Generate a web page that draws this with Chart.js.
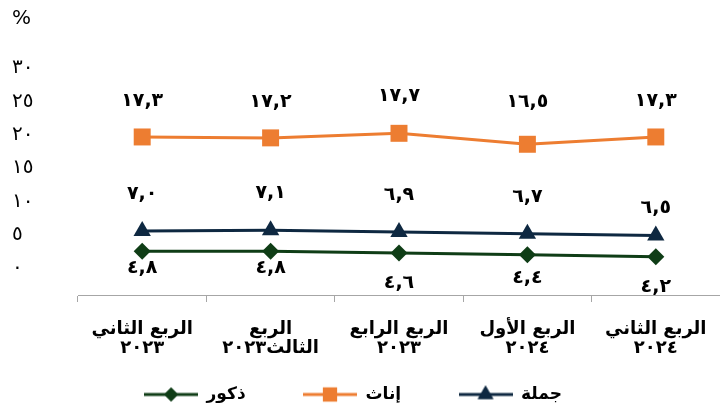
<!DOCTYPE html>
<html lang="ar">
<head>
<meta charset="utf-8">
<script src="https://cdn.jsdelivr.net/npm/chart.js@4.4.1/dist/chart.umd.min.js"></script>
<style>
    html, body { margin: 0; padding: 0; background: #fff; }
    #wrap { width: 720px; height: 409px; }
</style>
</head>
<body>
<div id="wrap"><canvas id="quarters-chart"></canvas></div>
<script>
const QUARTERS = [
    ['الربع الثاني', '٢٠٢٣'],
    ['الربع', 'الثالث٢٠٢٣'],
    ['الربع الرابع', '٢٠٢٣'],
    ['الربع الأول', '٢٠٢٤'],
    ['الربع الثاني', '٢٠٢٤'],
];
const MALES = [4.8, 4.8, 4.6, 4.4, 4.2];
const FEMALES = [17.3, 17.2, 17.7, 16.5, 17.3];
const TOTAL = [7.0, 7.1, 6.9, 6.7, 6.5];
const Y_TICKS = [0, 5, 10, 15, 20, 25, 30];

const FONT = 'DejaVu Sans, sans-serif';
const COLORS = { males: '#0f3d16', females: '#ed7d31', total: '#0e2841' };

function toArabicDigits(text) {
    return String(text).replace(/[0-9]/g, d => '٠١٢٣٤٥٦٧٨٩'[d]);
}

// small canvas with the line running through the marker, used as legend symbol
function legendSymbol(color, pointStyle, radius) {
    const cnv = document.createElement('canvas');
    cnv.width = 54;
    cnv.height = 20;
    const ctx = cnv.getContext('2d');
    ctx.strokeStyle = color;
    ctx.lineWidth = 3;
    ctx.beginPath();
    ctx.moveTo(0, 10);
    ctx.lineTo(54, 10);
    ctx.stroke();
    ctx.fillStyle = color;
    Chart.helpers.drawPoint(ctx, { pointStyle, radius, borderWidth: 0 }, 27, 10);
    ctx.fill();
    return cnv;
}

const valueLabels = {
    id: 'valueLabels',
    afterDatasetsDraw(chart, args, opts) {
        const ctx = chart.ctx;
        ctx.save();
        ctx.font = opts.font;
        ctx.fillStyle = opts.color;
        ctx.letterSpacing = opts.spacing;
        ctx.textAlign = 'center';
        ctx.textBaseline = 'middle';
        chart.data.datasets.forEach((ds, i) => {
            const meta = chart.getDatasetMeta(i);
            const shifts = opts.offsets[i];
            meta.data.forEach((pt, j) => {
                const txt = toArabicDigits(ds.data[j].toFixed(1)).replace('.', ',');
                ctx.fillText(txt, pt.x, pt.y + shifts[j]);
            });
        });
        ctx.restore();
    },
};

// legend sits a little left of the plot's centre in the original
const legendShift = {
    id: 'legendShift',
    afterLayout(chart) {
        if (chart.legend) {
            chart.legend.left -= 20;
            chart.legend.right -= 20;
        }
    },
};

function renderQuartersChart() {
    const chartElm = document.getElementById('quarters-chart');
    if (!chartElm) return;

    const ctx = chartElm.getContext('2d');
    const quartersChart = new Chart(ctx, {
        type: 'line',
        data: {
            labels: QUARTERS,
            datasets: [
                {
                    label: 'ذكور',
                    data: MALES,
                    borderColor: COLORS.males,
                    backgroundColor: COLORS.males,
                    pointStyle: 'rectRot',
                    pointRadius: 8.5,
                    legendSymbol: legendSymbol(COLORS.males, 'rectRot', 7),
                },
                {
                    label: 'إناث',
                    data: FEMALES,
                    borderColor: COLORS.females,
                    backgroundColor: COLORS.females,
                    pointStyle: 'rect',
                    pointRadius: 12,
                    legendSymbol: legendSymbol(COLORS.females, 'rect', 10),
                },
                {
                    label: 'جملة',
                    data: TOTAL,
                    borderColor: COLORS.total,
                    backgroundColor: COLORS.total,
                    pointStyle: 'triangle',
                    pointRadius: 10,
                    legendSymbol: legendSymbol(COLORS.total, 'triangle', 9),
                },
            ],
        },
        options: {
            responsive: true,
            maintainAspectRatio: false,
            animation: false,
            layout: { autoPadding: false, padding: { left: 12, right: -14, top: 0, bottom: -4 } },
            elements: {
                line: { borderWidth: 3, tension: 0 },
                point: { borderWidth: 0, hoverRadius: 9 },
            },
            plugins: {
                title: {
                    display: true,
                    text: '%',
                    align: 'start',
                    color: '#000',
                    font: { family: FONT, size: 20, weight: 'normal' },
                    padding: { top: 7, bottom: 0 },
                },
                legend: {
                    position: 'bottom',
                    labels: {
                        usePointStyle: true,
                        pointStyleWidth: 54,
                        color: '#000',
                        font: { family: FONT, size: 17, weight: 'bold' },
                        padding: 10,
                        generateLabels(chart) {
                            const last = chart.data.datasets.length - 1;
                            return chart.data.datasets.map((ds, i) => ({
                                // trailing spaces keep the wide gap between items
                                text: i < last ? ds.label + '        ' : ds.label,
                                pointStyle: ds.legendSymbol,
                                fillStyle: ds.backgroundColor,
                                strokeStyle: ds.borderColor,
                                lineWidth: 0,
                                fontColor: '#000',
                                hidden: false,
                                datasetIndex: i,
                            }));
                        },
                    },
                },
                tooltip: { enabled: false },
                valueLabels: {
                    font: 'bold 19px ' + FONT,
                    spacing: '4px',
                    color: '#000',
                    offsets: [
                        [17, 17, 30, 23, 30],
                        [-36, -36, -37, -42, -36],
                        [-37, -37, -37, -37, -28],
                    ],
                },
            },
            scales: {
                x: {
                    offset: true,
                    afterFit(axis) {
                        axis.height = 81;
                        // no side padding for the end labels, the plot runs to the edge
                        axis.paddingLeft = 0;
                        axis.paddingRight = 0;
                    },
                    grid: {
                        display: true,
                        offset: true,
                        drawOnChartArea: false,
                        tickLength: 7,
                        color: '#a6a6a6',
                    },
                    border: { display: true, color: '#a6a6a6', width: 1 },
                    ticks: {
                        color: '#000',
                        font: { family: FONT, size: 18, weight: 'bold', lineHeight: 1.05 },
                        padding: 18,
                        maxRotation: 0,
                        autoSkip: false,
                    },
                },
                y: {
                    display: false,
                    min: 0,
                    max: 28.9,
                },
                // the printed scale of the original is offset from the plotted one
                yLabels: {
                    position: 'left',
                    min: -4.05,
                    max: 35.55,
                    afterBuildTicks(axis) {
                        axis.ticks = Y_TICKS.map(v => ({ value: v }));
                    },
                    afterFit(axis) {
                        axis.width = 66;
                    },
                    grid: { display: false },
                    border: { display: false },
                    ticks: {
                        crossAlign: 'far',
                        color: '#000',
                        font: { family: FONT, size: 20 },
                        callback: v => toArabicDigits(v),
                    },
                },
            },
        },
        plugins: [valueLabels, legendShift],
    });
}

renderQuartersChart();
</script>
</body>
</html>
